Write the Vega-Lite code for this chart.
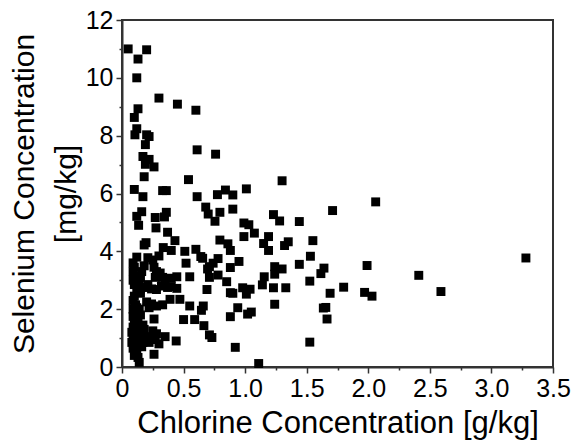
{
  "$schema": "https://vega.github.io/schema/vega-lite/v6.json",
  "width": 431,
  "height": 347,
  "autosize": {"type": "none"},
  "padding": {"left": 122, "top": 20, "right": 23, "bottom": 74},
  "background": "white",
  "config": {
    "view": {"stroke": "#333333", "strokeWidth": 2},
    "font": "Liberation Sans",
    "axis": {"grid": false, "domainColor": "#333333", "domainWidth": 2, "tickColor": "#333333", "tickWidth": 1.5, "labelColor": "black", "titleColor": "black", "labelFont": "Liberation Sans", "titleFont": "Liberation Sans", "titleFontWeight": "normal", "labelOverlap": false, "labelFlush": false}
  },
  "data": {
    "values": [
      {"cl": 0.05, "se": 11.0}, {"cl": 0.20, "se": 10.97}, {"cl": 0.13, "se": 10.65}, {"cl": 0.12, "se": 10.0},
      {"cl": 0.30, "se": 9.3}, {"cl": 0.45, "se": 9.09}, {"cl": 0.60, "se": 8.88}, {"cl": 0.13, "se": 8.93},
      {"cl": 0.10, "se": 8.63}, {"cl": 0.12, "se": 8.24}, {"cl": 0.105, "se": 8.03}, {"cl": 0.20, "se": 8.03},
      {"cl": 0.22, "se": 7.97}, {"cl": 0.19, "se": 7.69}, {"cl": 0.61, "se": 7.51}, {"cl": 0.76, "se": 7.36},
      {"cl": 0.17, "se": 7.28}, {"cl": 0.22, "se": 7.18}, {"cl": 0.19, "se": 7.01}, {"cl": 0.26, "se": 6.92},
      {"cl": 0.18, "se": 6.58}, {"cl": 0.54, "se": 6.48}, {"cl": 1.30, "se": 6.44}, {"cl": 0.10, "se": 6.14},
      {"cl": 0.33, "se": 6.10}, {"cl": 0.36, "se": 6.10}, {"cl": 0.84, "se": 6.12}, {"cl": 1.01, "se": 6.16},
      {"cl": 0.17, "se": 5.89}, {"cl": 0.61, "se": 5.89}, {"cl": 0.775, "se": 5.96}, {"cl": 0.90, "se": 5.95},
      {"cl": 0.16, "se": 5.37}, {"cl": 0.12, "se": 5.21}, {"cl": 0.27, "se": 5.17}, {"cl": 0.345, "se": 5.19},
      {"cl": 0.36, "se": 5.35}, {"cl": 0.135, "se": 4.90}, {"cl": 0.276, "se": 4.81}, {"cl": 0.37, "se": 4.66},
      {"cl": 0.43, "se": 4.37}, {"cl": 0.195, "se": 4.30}, {"cl": 0.18, "se": 4.22}, {"cl": 0.335, "se": 4.13},
      {"cl": 0.40, "se": 4.03},
      {"cl": 0.68, "se": 5.53}, {"cl": 0.70, "se": 5.29}, {"cl": 0.795, "se": 5.35}, {"cl": 0.755, "se": 5.04},
      {"cl": 0.90, "se": 5.46}, {"cl": 0.99, "se": 4.98}, {"cl": 1.03, "se": 4.92}, {"cl": 1.075, "se": 4.63},
      {"cl": 0.99, "se": 4.51}, {"cl": 1.23, "se": 5.27}, {"cl": 1.28, "se": 5.05}, {"cl": 1.44, "se": 5.03},
      {"cl": 1.19, "se": 4.51}, {"cl": 1.15, "se": 4.27}, {"cl": 1.19, "se": 4.03}, {"cl": 1.35, "se": 4.33},
      {"cl": 1.32, "se": 4.20}, {"cl": 1.55, "se": 4.37}, {"cl": 1.71, "se": 5.41}, {"cl": 2.06, "se": 5.71},
      {"cl": 0.795, "se": 4.39}, {"cl": 0.86, "se": 4.26}, {"cl": 0.88, "se": 4.03}, {"cl": 0.60, "se": 4.07},
      {"cl": 0.64, "se": 3.82}, {"cl": 0.655, "se": 3.76}, {"cl": 0.51, "se": 4.00}, {"cl": 0.52, "se": 3.59},
      {"cl": 0.78, "se": 3.75}, {"cl": 0.74, "se": 3.59}, {"cl": 0.71, "se": 3.47}, {"cl": 0.695, "se": 3.39},
      {"cl": 0.95, "se": 3.65}, {"cl": 0.88, "se": 3.44},
      {"cl": 0.445, "se": 3.12}, {"cl": 0.40, "se": 3.07}, {"cl": 0.55, "se": 3.12}, {"cl": 0.71, "se": 3.10},
      {"cl": 0.78, "se": 3.18}, {"cl": 0.85, "se": 2.95}, {"cl": 0.40, "se": 2.78}, {"cl": 0.445, "se": 2.72},
      {"cl": 0.69, "se": 2.68}, {"cl": 0.88, "se": 2.57}, {"cl": 0.90, "se": 2.55}, {"cl": 0.98, "se": 2.74},
      {"cl": 1.04, "se": 2.69}, {"cl": 1.01, "se": 2.52},
      {"cl": 0.39, "se": 2.34}, {"cl": 0.47, "se": 2.34}, {"cl": 0.55, "se": 2.11}, {"cl": 0.66, "se": 2.11},
      {"cl": 0.645, "se": 1.96}, {"cl": 0.94, "se": 2.05}, {"cl": 0.88, "se": 1.74}, {"cl": 1.02, "se": 1.83},
      {"cl": 1.05, "se": 1.90}, {"cl": 0.50, "se": 1.64}, {"cl": 0.59, "se": 1.64}, {"cl": 0.665, "se": 1.43},
      {"cl": 0.71, "se": 1.11}, {"cl": 0.73, "se": 1.02}, {"cl": 0.44, "se": 0.90}, {"cl": 0.92, "se": 0.68},
      {"cl": 1.11, "se": 0.12},
      {"cl": 1.24, "se": 3.47}, {"cl": 1.30, "se": 3.39}, {"cl": 1.24, "se": 3.21}, {"cl": 1.44, "se": 3.55},
      {"cl": 1.53, "se": 3.83}, {"cl": 1.615, "se": 3.23}, {"cl": 1.64, "se": 3.42}, {"cl": 1.155, "se": 3.12},
      {"cl": 1.525, "se": 2.97}, {"cl": 1.14, "se": 2.84}, {"cl": 1.23, "se": 2.74}, {"cl": 1.33, "se": 2.74},
      {"cl": 1.24, "se": 2.17}, {"cl": 1.635, "se": 2.04}, {"cl": 1.655, "se": 2.06}, {"cl": 1.665, "se": 1.66},
      {"cl": 1.525, "se": 0.86},
      {"cl": 1.69, "se": 2.55}, {"cl": 1.80, "se": 2.76}, {"cl": 1.99, "se": 3.51}, {"cl": 1.97, "se": 2.58},
      {"cl": 2.03, "se": 2.45}, {"cl": 2.41, "se": 3.17}, {"cl": 2.59, "se": 2.61}, {"cl": 3.28, "se": 3.77},
      {"cl": 0.12, "se": 3.80}, {"cl": 0.21, "se": 3.78}, {"cl": 0.30, "se": 3.84}, {"cl": 0.25, "se": 3.70},
      {"cl": 0.09, "se": 3.60}, {"cl": 0.10, "se": 3.45}, {"cl": 0.09, "se": 3.30}, {"cl": 0.11, "se": 3.15},
      {"cl": 0.09, "se": 3.00}, {"cl": 0.10, "se": 2.85}, {"cl": 0.12, "se": 2.70},
      {"cl": 0.18, "se": 3.50}, {"cl": 0.16, "se": 3.30}, {"cl": 0.15, "se": 3.10}, {"cl": 0.21, "se": 2.85},
      {"cl": 0.18, "se": 2.75}, {"cl": 0.26, "se": 3.45}, {"cl": 0.28, "se": 3.30}, {"cl": 0.27, "se": 3.10},
      {"cl": 0.31, "se": 3.25}, {"cl": 0.33, "se": 3.10}, {"cl": 0.35, "se": 2.95}, {"cl": 0.32, "se": 2.80},
      {"cl": 0.37, "se": 2.75}, {"cl": 0.15, "se": 2.70}, {"cl": 0.24, "se": 2.70}, {"cl": 0.28, "se": 2.68},
      {"cl": 0.14, "se": 2.90}, {"cl": 0.10, "se": 2.45}, {"cl": 0.09, "se": 2.30}, {"cl": 0.11, "se": 2.15},
      {"cl": 0.15, "se": 2.55},
      {"cl": 0.20, "se": 2.25}, {"cl": 0.24, "se": 2.18}, {"cl": 0.28, "se": 2.11}, {"cl": 0.33, "se": 2.15},
      {"cl": 0.22, "se": 2.05},
      {"cl": 0.09, "se": 2.00}, {"cl": 0.11, "se": 1.88}, {"cl": 0.09, "se": 1.75}, {"cl": 0.12, "se": 1.62},
      {"cl": 0.10, "se": 1.50}, {"cl": 0.09, "se": 1.38}, {"cl": 0.12, "se": 1.25}, {"cl": 0.10, "se": 1.12},
      {"cl": 0.09, "se": 1.00}, {"cl": 0.12, "se": 0.90}, {"cl": 0.10, "se": 0.78}, {"cl": 0.09, "se": 0.65},
      {"cl": 0.11, "se": 0.52}, {"cl": 0.10, "se": 0.40}, {"cl": 0.14, "se": 0.16},
      {"cl": 0.12, "se": 2.05}, {"cl": 0.13, "se": 1.70}, {"cl": 0.14, "se": 1.40}, {"cl": 0.13, "se": 1.08},
      {"cl": 0.14, "se": 0.75}, {"cl": 0.12, "se": 0.55}, {"cl": 0.13, "se": 0.33}, {"cl": 0.08, "se": 1.20},
      {"cl": 0.08, "se": 0.85},
      {"cl": 0.17, "se": 1.45}, {"cl": 0.18, "se": 1.30}, {"cl": 0.16, "se": 1.15}, {"cl": 0.19, "se": 1.00},
      {"cl": 0.17, "se": 0.85}, {"cl": 0.16, "se": 0.70}, {"cl": 0.15, "se": 1.80}, {"cl": 0.14, "se": 2.00},
      {"cl": 0.26, "se": 1.66}, {"cl": 0.25, "se": 1.25}, {"cl": 0.28, "se": 1.15}, {"cl": 0.23, "se": 1.05},
      {"cl": 0.27, "se": 0.95}, {"cl": 0.30, "se": 0.80}, {"cl": 0.22, "se": 0.85}, {"cl": 0.35, "se": 1.05},
      {"cl": 0.26, "se": 0.44}
    ]
  },
  "mark": {"type": "square", "size": 80, "color": "black", "opacity": 1},
  "encoding": {
    "x": {
      "field": "cl", "type": "quantitative",
      "scale": {"domain": [0, 3.5], "nice": false, "zero": false},
      "axis": {
        "title": "Chlorine Concentration [g/kg]",
        "titleFontSize": 31, "titlePadding": 7,
        "labelFontSize": 25, "labelPadding": 3,
        "values": [0, 0.25, 0.5, 0.75, 1, 1.25, 1.5, 1.75, 2, 2.25, 2.5, 2.75, 3, 3.25, 3.5],
        "labelExpr": "datum.value % 0.5 === 0 ? (datum.value === 0 ? '0' : format(datum.value, '.1f')) : ''",
        "tickSize": {"condition": {"test": "datum.value % 0.5 !== 0", "value": 3}, "value": 6}
      }
    },
    "y": {
      "field": "se", "type": "quantitative",
      "scale": {"domain": [0, 12], "nice": false, "zero": false},
      "axis": {
        "title": ["Selenium Concentration", "[mg/kg]"],
        "titleFontSize": 30, "titlePadding": 4, "titleLineHeight": 42,
        "labelFontSize": 25, "labelPadding": 3,
        "values": [0, 1, 2, 3, 4, 5, 6, 7, 8, 9, 10, 11, 12],
        "labelExpr": "datum.value % 2 === 0 ? format(datum.value, 'd') : ''",
        "tickSize": {"condition": {"test": "datum.value % 2 !== 0", "value": 3}, "value": 6}
      }
    }
  }
}
